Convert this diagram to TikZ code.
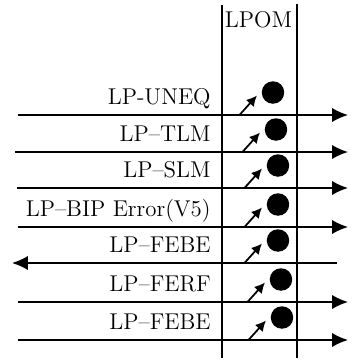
\documentclass[tikz,border=0pt]{standalone}
\usepackage{tikz}
\usetikzlibrary{arrows.meta,positioning,calc}

\begin{document}
\begin{tikzpicture}[>=Latex, every node/.style={font=\fontsize{13}{15}\selectfont},
  sig/.style={line width=0.8pt, -{Latex[length=9pt,width=8pt]}},
  tap/.style={line width=1pt, -{Latex[length=6pt,width=6pt]}},
  dot/.style={circle, fill, inner sep=0pt, minimum size=0.45cm},
  lbl/.style={anchor=base east, inner sep=0pt}]
\useasboundingbox (0,0) rectangle (7.1,7.26);

% LPOM column
\node[anchor=base, inner sep=0pt] (lpom) at (5.17,6.72) {LPOM};
\coordinate (colLt) at (4.44,7.16);
\coordinate (colLb) at (4.44,0.10);
\coordinate (colRt) at (5.94,7.18);
\coordinate (colRb) at (5.94,0.10);
\draw[line width=0.6pt] (colLt) -- (colLb);
\draw[line width=0.6pt] (colRt) -- (colRb);

% signal lines
\coordinate (w1) at (0.36,4.96); \coordinate (e1) at (6.96,4.96);
\coordinate (w2) at (0.30,4.22); \coordinate (e2) at (6.96,4.22);
\coordinate (w3) at (0.34,3.50); \coordinate (e3) at (6.96,3.50);
\coordinate (w4) at (0.36,2.72); \coordinate (e4) at (6.96,2.72);
\coordinate (w5) at (0.24,2.00); \coordinate (e5) at (6.74,2.00);
\coordinate (w6) at (0.36,1.22); \coordinate (e6) at (6.96,1.22);
\coordinate (w7) at (0.36,0.46); \coordinate (e7) at (6.96,0.46);

\draw[sig] (w1) -- (e1);
\draw[sig] (w2) -- (e2);
\draw[sig] (w3) -- (e3);
\draw[sig] (w4) -- (e4);
\draw[sig] (e5) -- (w5);
\draw[sig] (w6) -- (e6);
\draw[sig] (w7) -- (e7);

% labels
\node[lbl] (l1) at (4.22,5.18) {LP-UNEQ};
\node[lbl] (l2) at (4.22,4.44) {LP--TLM};
\node[lbl] (l3) at (4.22,3.72) {LP--SLM};
\node[lbl] (l4) at (4.22,2.94) {LP--BIP Error(V5)};
\node[lbl] (l5) at (4.22,2.22) {LP--FEBE};
\node[lbl] (l6) at (4.22,1.44) {LP--FERF};
\node[lbl] (l7) at (4.22,0.68) {LP--FEBE};

% detection points
\node[dot] (d1) at (5.46,5.41) {};
\node[dot] (d2) at (5.52,4.67) {};
\node[dot] (d3) at (5.56,3.95) {};
\node[dot] (d4) at (5.56,3.17) {};
\node[dot] (d5) at (5.56,2.45) {};
\node[dot] (d6) at (5.62,1.67) {};
\node[dot] (d7) at (5.64,0.91) {};

\draw[tap] ($(d1)+(-0.67,-0.45)$) -- ($(d1)+(-0.32,-0.06)$);
\draw[tap] ($(d2)+(-0.67,-0.45)$) -- ($(d2)+(-0.32,-0.06)$);
\draw[tap] ($(d3)+(-0.67,-0.45)$) -- ($(d3)+(-0.32,-0.06)$);
\draw[tap] ($(d4)+(-0.67,-0.45)$) -- ($(d4)+(-0.32,-0.06)$);
\draw[tap] ($(d5)+(-0.67,-0.45)$) -- ($(d5)+(-0.32,-0.06)$);
\draw[tap] ($(d6)+(-0.67,-0.45)$) -- ($(d6)+(-0.32,-0.06)$);
\draw[tap] ($(d7)+(-0.67,-0.45)$) -- ($(d7)+(-0.32,-0.06)$);
\end{tikzpicture}
\end{document}
